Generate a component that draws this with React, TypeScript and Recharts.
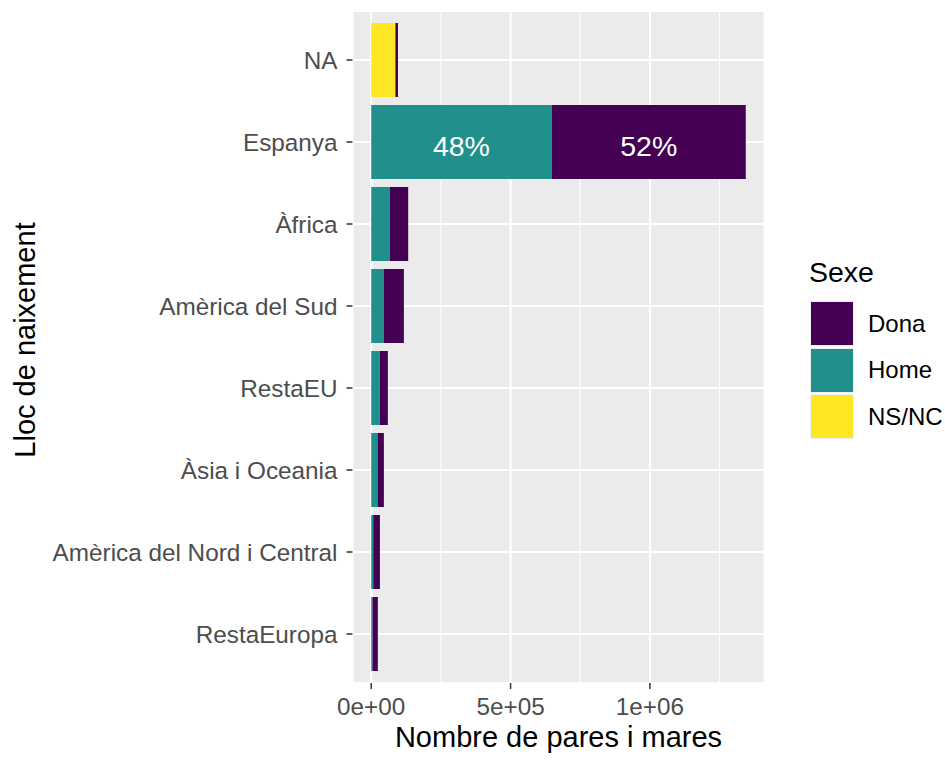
import React from 'react';
import { BarChart, Bar, XAxis, YAxis, CartesianGrid, Legend, LabelList, Label } from 'recharts';

const categories = ['NA', 'Espanya', 'Àfrica', 'Amèrica del Sud', 'RestaEU', 'Àsia i Oceania', 'Amèrica del Nord i Central', 'RestaEuropa'];
const dona = [9000, 696400, 65600, 71700, 28700, 22700, 24000, 19000];
const home = [1000, 647500, 67000, 45500, 31000, 22700, 7200, 4700];
const nsnc = [86000, 0, 0, 0, 0, 0, 0, 0];
const labelledCategories = ['Espanya'];
const xTicks = [0, 500000, 1000000];
const xMinorTicks = [250000, 750000, 1250000];
const seriesKeys = ['Dona', 'Home', 'NS/NC'];
const seriesColors = ['#440154', '#21908C', '#FDE725'];

const FONT = '"Liberation Sans", Arial, Helvetica, sans-serif';
const TICK_SIZE = 24.3;
const TITLE_SIZE = 29;

const data = categories.map((name, i) => {
  const total = dona[i] + home[i] + nsnc[i];
  const show = labelledCategories.includes(name);
  return {
    name,
    Dona: dona[i],
    Home: home[i],
    'NS/NC': nsnc[i],
    donaLabel: show ? `${Math.round((dona[i] / total) * 100)}%` : '',
    homeLabel: show ? `${Math.round((home[i] / total) * 100)}%` : '',
  };
});

const maxTotal = Math.max(...categories.map((_, i) => dona[i] + home[i] + nsnc[i]));
const pad = maxTotal * 0.05;
const d0 = -pad;
const d1 = maxTotal + pad;

const fmtSci = (v: number) => {
  const [m, e] = v.toExponential(0).split('e');
  const sign = e.startsWith('-') ? '-' : '+';
  const digits = e.replace(/[+-]/, '').padStart(2, '0');
  return `${m}e${sign}${digits}`;
};

const renderPct = (props: any) => {
  const { x, y, width, height, value } = props;
  if (!value) return null;
  const cx = Number(x) + Number(width) / 2;
  const cy = Number(y) + Number(height) / 2;
  return (
    <text
      x={cx}
      y={cy + 13.5}
      textAnchor="middle"
      style={{ fontSize: 28.5, fill: '#FFFFFF', fontFamily: FONT }}
    >
      {value}
    </text>
  );
};

const renderLegend = () => (
  <div style={{ position: 'relative', width: 150, height: 200, fontFamily: FONT }}>
    <div style={{ position: 'absolute', left: 14, top: 8, fontSize: 28.5, lineHeight: '28px', color: '#000', whiteSpace: 'nowrap' }}>Sexe</div>
    {seriesKeys.map((k, i) => (
      <React.Fragment key={k}>
        <div
          style={{
            position: 'absolute',
            left: 16,
            top: 52 + i * 46.5,
            width: 42,
            height: 43,
            background: seriesColors[i],
            boxShadow: '0 0 0 1px #F0F0F0',
          }}
        />
        <div
          style={{
            position: 'absolute',
            left: 73,
            top: 52 + i * 46.5 + 21.5 - 12,
            fontSize: 24,
            lineHeight: '24px',
            color: '#000',
            whiteSpace: 'nowrap',
          }}
        >
          {k}
        </div>
      </React.Fragment>
    ))}
  </div>
);

export default function App() {
  return (
    <div style={{ position: 'absolute', left: 0, top: 0, width: 945, height: 760, fontFamily: FONT, background: '#FFFFFF' }}>
      <BarChart
        width={945}
        height={760}
        data={data}
        layout="vertical"
        margin={{ top: 11, right: 180.5, bottom: 0, left: 0 }}
        barCategoryGap="5%"
        style={{ fontFamily: FONT }}
      >
        <CartesianGrid
          fill="#EBEBEB"
          fillOpacity={1}
          stroke="#FFFFFF"
          strokeWidth={2}
        />
        <CartesianGrid
          horizontal={false}
          stroke="#FFFFFF"
          strokeWidth={1}
          verticalCoordinatesGenerator={({ offset }: any) =>
            xMinorTicks.map((v) => offset.left + ((v - d0) / (d1 - d0)) * offset.width)
          }
        />
        <XAxis
          type="number"
          domain={[d0, d1]}
          ticks={xTicks}
          allowDataOverflow
          tickFormatter={fmtSci}
          axisLine={false}
          tickLine={{ stroke: '#333333', strokeWidth: 1.5 }}
          tickSize={6}
          tickMargin={9}
          height={77}
          tick={{ fill: '#4D4D4D', fontSize: TICK_SIZE, fontFamily: FONT }}
        >
          <Label
            value="Nombre de pares i mares"
            position="insideBottom"
            offset={13}
            style={{ fontSize: TITLE_SIZE, fill: '#000000', fontFamily: FONT }}
          />
        </XAxis>
        <YAxis
          type="category"
          dataKey="name"
          width={352.5}
          axisLine={false}
          tickLine={{ stroke: '#333333', strokeWidth: 1.5 }}
          tickSize={6}
          tickMargin={9}
          padding={{ top: 8, bottom: 8 }}
          interval={0}
          tick={{ fill: '#4D4D4D', fontSize: TICK_SIZE, fontFamily: FONT }}
        >
          <Label
            content={() => {
              const cy = 340;
              const x = 35;
              return (
                <text
                  x={x}
                  y={cy}
                  transform={`rotate(-90 ${x} ${cy})`}
                  textAnchor="middle"
                  style={{ fontSize: TITLE_SIZE, fill: '#000000', fontFamily: FONT }}
                >
                  Lloc de naixement
                </text>
              );
            }}
          />
        </YAxis>
        <Legend
          layout="horizontal"
          align="center"
          verticalAlign="middle"
          content={renderLegend}
          wrapperStyle={{ position: 'absolute', left: 795, top: 250, width: 150, height: 200 }}
        />
        <Bar dataKey="NS/NC" stackId="s" fill={seriesColors[2]} isAnimationActive={false} />
        <Bar dataKey="Home" stackId="s" fill={seriesColors[1]} isAnimationActive={false}>
          <LabelList dataKey="homeLabel" content={renderPct} />
        </Bar>
        <Bar dataKey="Dona" stackId="s" fill={seriesColors[0]} isAnimationActive={false}>
          <LabelList dataKey="donaLabel" content={renderPct} />
        </Bar>
      </BarChart>
    </div>
  );
}
